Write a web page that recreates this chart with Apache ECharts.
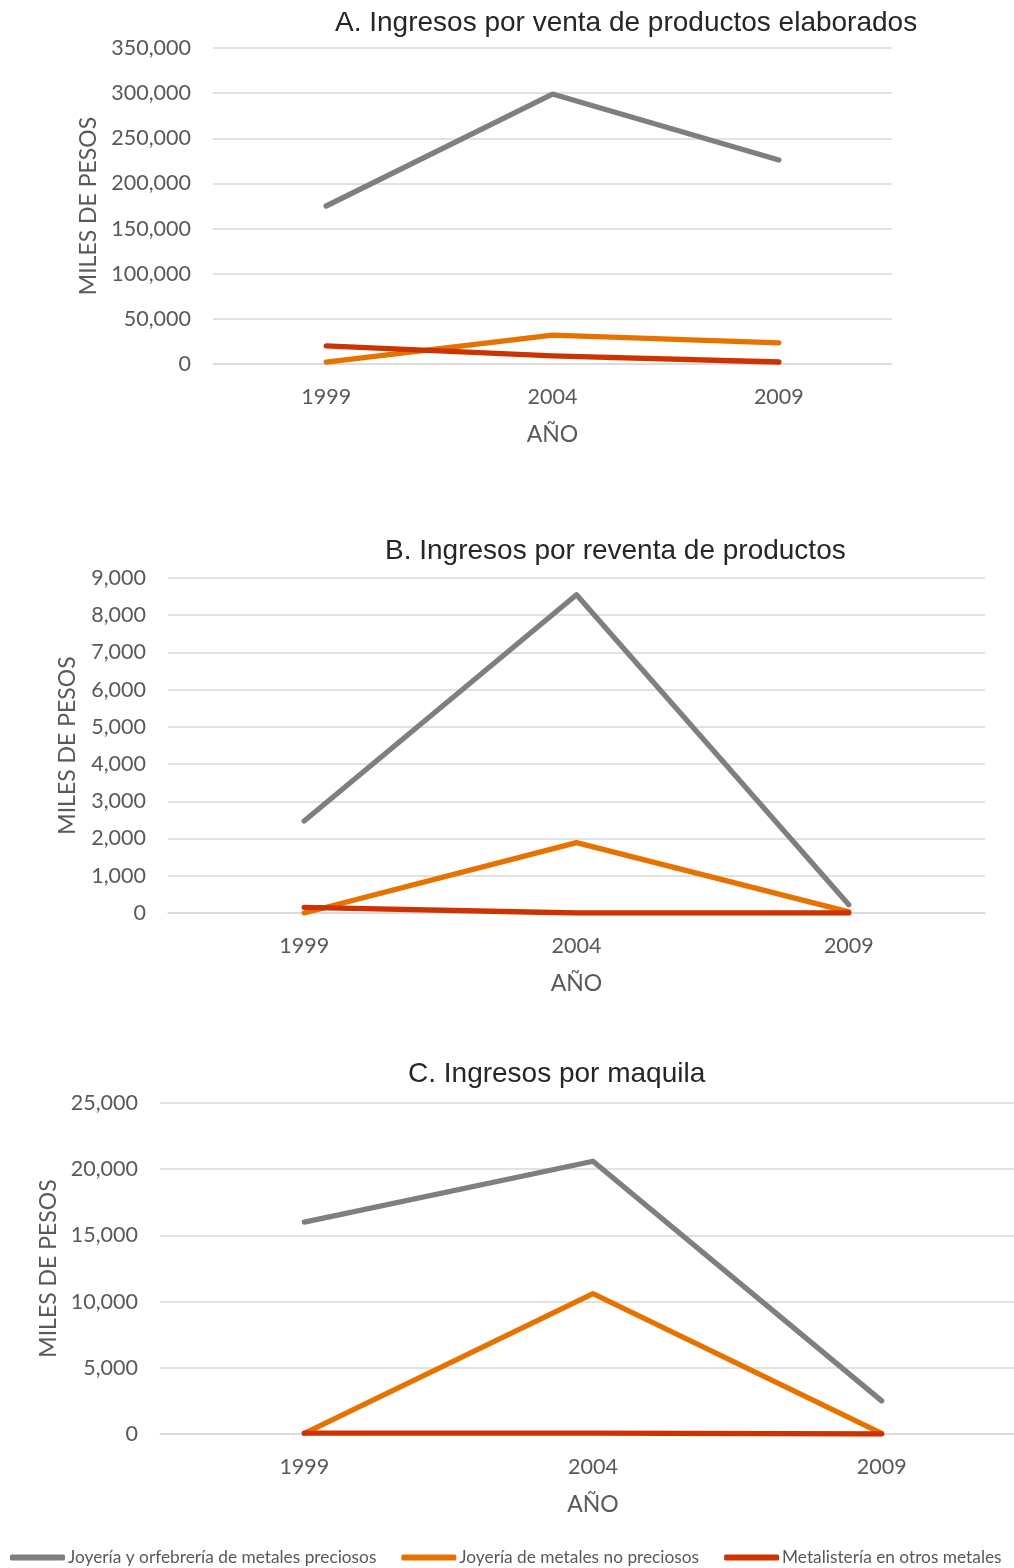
<!DOCTYPE html>
<html>
<head>
<meta charset="utf-8">
<script src="https://cdn.jsdelivr.net/npm/echarts@6/dist/echarts.min.js"></script>
<style>
html, body { margin: 0; padding: 0; background: #fff; overflow: hidden; }
#chart { width: 1030px; height: 1568px; }
</style>
</head>
<body>
<div id="chart"></div>
<script>
// años
var years = ['1999', '2004', '2009'];
var seriesNames = [
  'Joyería y orfebrería de metales preciosos',
  'Joyería de metales no preciosos',
  'Metalistería en otros metales'
];

// A. venta de productos elaborados
var ventaPreciosos = [175000, 299000, 226000];
var ventaNoPreciosos = [2200, 32000, 23500];
var ventaOtros = [20000, 9000, 2200];

// B. reventa de productos
var reventaPreciosos = [2470, 8550, 220];
var reventaNoPreciosos = [0, 1890, 30];
var reventaOtros = [150, 0, 0];

// C. maquila
var maquilaPreciosos = [16000, 20600, 2500];
var maquilaNoPreciosos = [50, 10600, 50];
var maquilaOtros = [60, 60, 0];

var colors = ['#7f7f7f', '#e67300', '#cc3300'];
var font = 'Lato';

var chart = echarts.init(document.getElementById('chart'));

function yAxis(idx, max, interval, gap){
  return {
    gridIndex: idx,
    type: 'value',
    min: 0,
    max: max,
    interval: interval,
    name: 'MILES DE PESOS',
    nameLocation: 'middle',
    nameRotate: 90,
    nameGap: gap,
    nameTextStyle: { fontFamily: font, fontSize: 23, color: '#595959' },
    axisLine: { show: false },
    axisTick: { show: false },
    axisLabel: { fontFamily: font, fontSize: 21.5, color: '#595959', margin: 22 },
    splitLine: { lineStyle: { color: '#d9d9d9', width: 1.5 } }
  };
}

function xAxis(idx){
  return {
    gridIndex: idx,
    type: 'category',
    data: years,
    boundaryGap: true,
    name: 'AÑO',
    nameLocation: 'middle',
    nameGap: 59,
    nameTextStyle: { fontFamily: font, fontSize: 23, color: '#595959' },
    axisLine: { lineStyle: { color: '#d9d9d9', width: 1.5 } },
    axisTick: { show: false },
    axisLabel: { fontFamily: font, fontSize: 21.5, color: '#595959', margin: 22 }
  };
}

function line(name, data, idx, color){
  return {
    name: name,
    type: 'line',
    xAxisIndex: idx,
    yAxisIndex: idx,
    data: data,
    symbol: 'none',
    color: color,
    lineStyle: { width: 5.3, color: color, cap: 'round', join: 'round' },
    z: 3
  };
}

var titleStyle = { fontFamily: 'Liberation Sans', fontSize: 28, fontWeight: 'normal', color: '#262626' };

var option = {
  animation: false,
  backgroundColor: '#fff',
  title: [
    { text: 'A. Ingresos por venta de productos elaborados', left: 330, top: 4, textStyle: titleStyle },
    { text: 'B. Ingresos por reventa de productos', left: 380, top: 532, textStyle: titleStyle },
    { text: 'C. Ingresos por maquila', left: 403, top: 1055, textStyle: titleStyle }
  ],
  legend: {
    top: 1549,
    left: 10,
    padding: 0,
    itemWidth: 55,
    itemHeight: 6,
    itemGap: 25,
    icon: 'roundRect',
    textStyle: { fontFamily: font, fontSize: 17.3, color: '#595959', padding: [0, 0, 0, -2] },
    data: seriesNames
  },
  grid: [
    { left: 213, top: 48, width: 679, height: 316 },
    { left: 168, top: 578, width: 817, height: 335 },
    { left: 160, top: 1103, width: 866, height: 331 }
  ],
  xAxis: [xAxis(0), xAxis(1), xAxis(2)],
  yAxis: [yAxis(0, 350000, 50000, 110), yAxis(1, 9000, 1000, 89), yAxis(2, 25000, 5000, 100)],
  series: [
    line(seriesNames[0], ventaPreciosos, 0, colors[0]),
    line(seriesNames[1], ventaNoPreciosos, 0, colors[1]),
    line(seriesNames[2], ventaOtros, 0, colors[2]),
    line(seriesNames[0], reventaPreciosos, 1, colors[0]),
    line(seriesNames[1], reventaNoPreciosos, 1, colors[1]),
    line(seriesNames[2], reventaOtros, 1, colors[2]),
    line(seriesNames[0], maquilaPreciosos, 2, colors[0]),
    line(seriesNames[1], maquilaNoPreciosos, 2, colors[1]),
    line(seriesNames[2], maquilaOtros, 2, colors[2])
  ]
};

chart.setOption(option);
</script>
</body>
</html>
